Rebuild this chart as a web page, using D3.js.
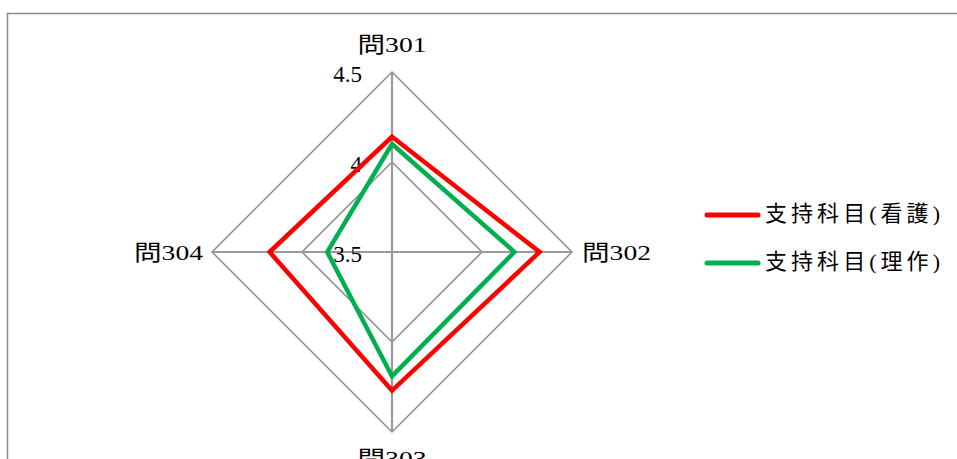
<!DOCTYPE html>
<html><head><meta charset="utf-8">
<script src="https://cdn.jsdelivr.net/npm/d3@7"></script>
<style>html,body{margin:0;padding:0;background:#fff;}svg{display:block;}</style>
</head><body>
<svg id="chart" width="957" height="459"></svg>
<script>
const axes = ["問301", "問302", "問303", "問304"];
const seriesNames = ["支持科目(看護)", "支持科目(理作)"];
const nursing = [4.14, 4.32, 4.27, 4.18];
const therapy = [4.10, 4.18, 4.19, 3.86];
const ticks = [3.5, 4, 4.5];
const tickLabels = ["3.5", "4", "4.5"];
const colors = ["#ff0000", "#00b050"];

const svg = d3.select("#chart");
const cx = 392, cy = 252, R = 180;
const r = d3.scaleLinear().domain([3.5, 4.5]).range([0, R]);
const ang = d3.scaleLinear().domain([0, axes.length]).range([0, 2 * Math.PI]);
const pt = (i, v) => [cx + Math.sin(ang(i)) * r(v), cy - Math.cos(ang(i)) * r(v)];

// frame
svg.append("rect").attr("x", 7.5).attr("y", 13.5).attr("width", 1000).attr("height", 1000)
  .attr("fill", "none").attr("stroke", "#8c8c8c").attr("stroke-width", 1.5);

// grid polygons
ticks.slice(1).forEach(t => {
  svg.append("path")
    .attr("d", d3.line()(axes.map((a, i) => pt(i, t))) + "Z")
    .attr("fill", "none").attr("stroke", "#8c8c8c").attr("stroke-width", 1.5);
});
// spokes
axes.forEach((a, i) => {
  const p = pt(i, 4.5);
  svg.append("line").attr("x1", cx).attr("y1", cy).attr("x2", p[0]).attr("y2", p[1])
    .attr("stroke", "#999").attr("stroke-width", 2.2);
});

const serif = "'Times New Roman', 'Liberation Serif', 'DejaVu Serif', 'Noto Sans CJK JP', serif";

// tick labels
ticks.forEach((t, k) => {
  svg.append("text").attr("x", cx - 30).attr("y", cy - r(t) + 2)
    .attr("text-anchor", "end").attr("dominant-baseline", "central")
    .style("font-family", serif).style("font-size", "23px")
    .attr("fill", "#000").text(tickLabels[k]);
});

// series
[nursing, therapy].forEach((vals, s) => {
  svg.append("path")
    .attr("d", d3.line()(vals.map((v, i) => pt(i, v))) + "Z")
    .attr("fill", "none").attr("stroke", colors[s]).attr("stroke-width", 4.5)
    .attr("stroke-linejoin", "miter");
});

// axis labels
const labelPos = [
  {x: cx, y: 44, anchor: "middle"},
  {x: 582, y: cy, anchor: "start"},
  {x: cx, y: 458, anchor: "middle"},
  {x: 203, y: cy, anchor: "end"}
];
axes.forEach((a, i) => {
  svg.append("text").attr("x", labelPos[i].x).attr("y", labelPos[i].y)
    .attr("text-anchor", labelPos[i].anchor).attr("dominant-baseline", "central")
    .style("font-family", serif).style("font-size", "22px")
    .attr("textLength", 69).attr("lengthAdjust", "spacingAndGlyphs")
    .attr("fill", "#000").text(a);
});

// legend
const legY = [215, 263];
seriesNames.forEach((n, s) => {
  svg.append("line").attr("x1", 707).attr("x2", 758).attr("y1", legY[s]).attr("y2", legY[s])
    .attr("stroke", colors[s]).attr("stroke-width", 5).attr("stroke-linecap", "round");
  svg.append("text").attr("x", 765).attr("y", legY[s] - 2)
    .attr("dominant-baseline", "central")
    .style("font-family", serif).style("font-size", "22px")
    .attr("textLength", 175).attr("lengthAdjust", "spacing")
    .attr("fill", "#000").text(n);
});
</script>
</body></html>
